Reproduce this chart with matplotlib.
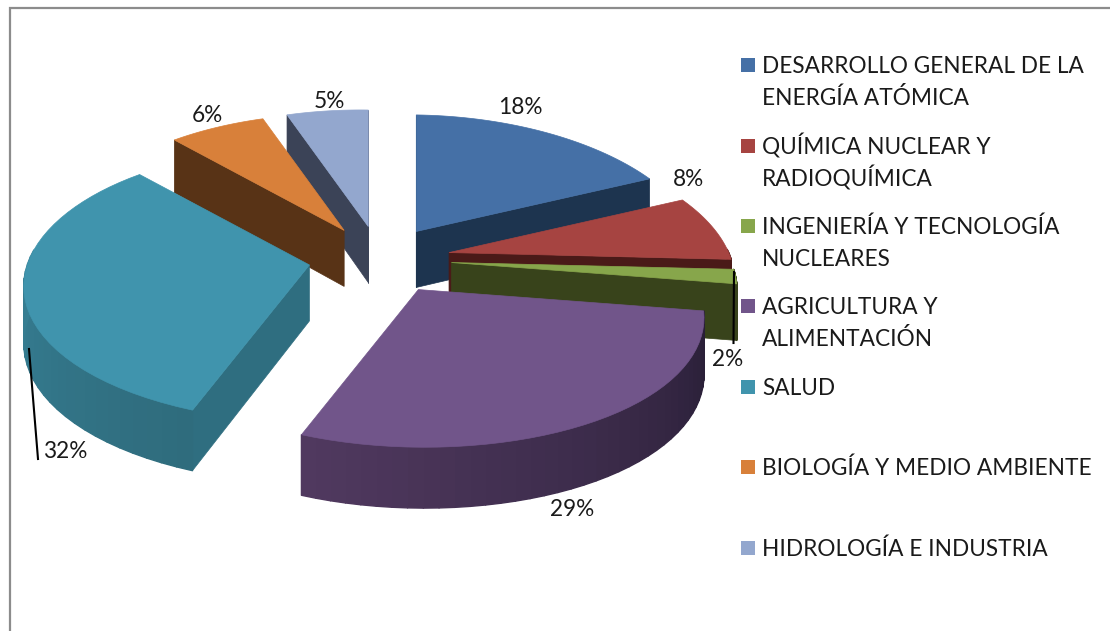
import numpy as np
import matplotlib
matplotlib.use("Agg")
import matplotlib.pyplot as plt
from matplotlib.collections import PolyCollection
from matplotlib.colors import to_rgb

categories = ["DESARROLLO GENERAL DE LA\nENERGÍA ATÓMICA", "QUÍMICA NUCLEAR Y\nRADIOQUÍMICA",
              "INGENIERÍA Y TECNOLOGÍA\nNUCLEARES", "AGRICULTURA Y\nALIMENTACIÓN", "SALUD",
              "BIOLOGÍA Y MEDIO AMBIENTE", "HIDROLOGÍA E INDUSTRIA"]
values = [17.7, 7.7, 1.7, 28.52, 32.4, 6.49, 5.49]
top_colors = ["#4570A6", "#A64441", "#87A64B", "#71558A", "#4094AD", "#D8803A", "#93A7CE"]
face_colors = ["#1D344F", "#4A1A18", "#38431B", "#2E2340", "#2F6E80", "#583316", "#3B4357"]
rim_start = ["#1D344F", "#4A1A18", "#38431B", "#281E36", "#2F6C7D", "#583316", "#3B4357"]
rim_end = ["#1D344F", "#4A1A18", "#38431B", "#50395F", "#3B8BA2", "#583316", "#3B4357"]
label_pos = [(520, 107), (689, 179), (728, 360), (572, 509), (65, 451), (207, 115), (329, 101)]
legend_y = [65, 146, 226, 306, 387, 467, 548]

FONT = "Lato"
FS = 16.25
CX, CY = 380, 259
RX, RY = 281, 134
KX, KY = 0.18, 0.15
SHEAR = -0.012
EXPLODE = 0.254
DEPTH = 56
KD = 0.08


def project(x, y):
    sx = 1 / (1 + KX * y)
    sy = 1 / (1 + KY * y)
    return RX * x * sx, RY * (-y) * sy - SHEAR * RX * x


fig = plt.figure(figsize=(11.10, 6.31), dpi=100)
ax = fig.add_axes([0, 0, 1, 1])
ax.set_xlim(0, 1110)
ax.set_ylim(631, 0)
ax.axis("off")
ax.plot([10, 10, 1110], [631, 8, 8], color="#8C8C8C", lw=1.6, zorder=1, solid_joinstyle="miter")

cum = np.concatenate([[0], np.cumsum(values)])
total = cum[-1]
starts = 90 - 360 * cum[:-1] / total
ends = 90 - 360 * cum[1:] / total
order = [6, 5, 0, 1, 2, 4, 3]

z = 2
for i in order:
    a0, a1 = starts[i], ends[i]
    mid = np.radians((a0 + a1) / 2)
    ax_, ay_ = project(EXPLODE * np.cos(mid), EXPLODE * np.sin(mid))
    ox, oy = CX + ax_, CY + ay_
    th = np.radians(np.linspace(a0, a1, 40))
    px, py = project(np.cos(th), np.sin(th))
    rx_pts, ry_pts = ox + px, oy + py
    dep = DEPTH / (1 + KD * np.sin(th))
    # radial side faces
    for ang, idx in ((a0 + 90, 0), (a1 - 90, -1)):
        if np.sin(np.radians(ang)) < 0.02:
            poly = [(ox, oy), (rx_pts[idx], ry_pts[idx]), (rx_pts[idx], ry_pts[idx] + dep[idx]), (ox, oy + DEPTH)]
            ax.fill(*zip(*poly), color=face_colors[i], lw=0.5, zorder=z)
    # outer wall, front part only, shaded along the arc
    polys, cols = [], []
    c0, c1 = np.array(to_rgb(rim_start[i])), np.array(to_rgb(rim_end[i]))
    for j in range(len(th) - 1):
        if np.sin(th[j]) < 0.05:
            polys.append([(rx_pts[j], ry_pts[j]), (rx_pts[j + 1], ry_pts[j + 1]),
                          (rx_pts[j + 1], ry_pts[j + 1] + dep[j + 1]), (rx_pts[j], ry_pts[j] + dep[j])])
            cols.append(c0 + (c1 - c0) * j / (len(th) - 2))
    if polys:
        ax.add_collection(PolyCollection(polys, facecolors=cols, edgecolors=cols, linewidths=1.0, zorder=z + 0.1))
    # top
    ax.fill(np.r_[ox, rx_pts], np.r_[oy, ry_pts], color=top_colors[i], lw=0.5, zorder=z + 0.2)
    z += 1

# leader lines
ax.plot([734, 733.5], [272, 343], color="black", lw=1.5, zorder=20)
ax.plot([29, 38], [349, 459], color="black", lw=1.5, zorder=20)

for v, (x, y) in zip(values, label_pos):
    ax.text(x, y, f"{round(v)}%", ha="center", va="center", family=FONT, fontsize=FS, color="#1a1a1a", zorder=21)

for name, c, y in zip(categories, top_colors, legend_y):
    ax.fill([741, 755, 755, 741], [y - 7, y - 7, y + 7, y + 7], color=c, lw=0, zorder=21)
    lines = name.split("\n")
    for n, line in enumerate(lines):
        ax.text(762, y + 8 + 32 * n, line, ha="left", va="baseline", family=FONT, fontsize=FS, color="#1a1a1a", zorder=21)

fig.savefig("out.png", dpi=100, facecolor="white")
